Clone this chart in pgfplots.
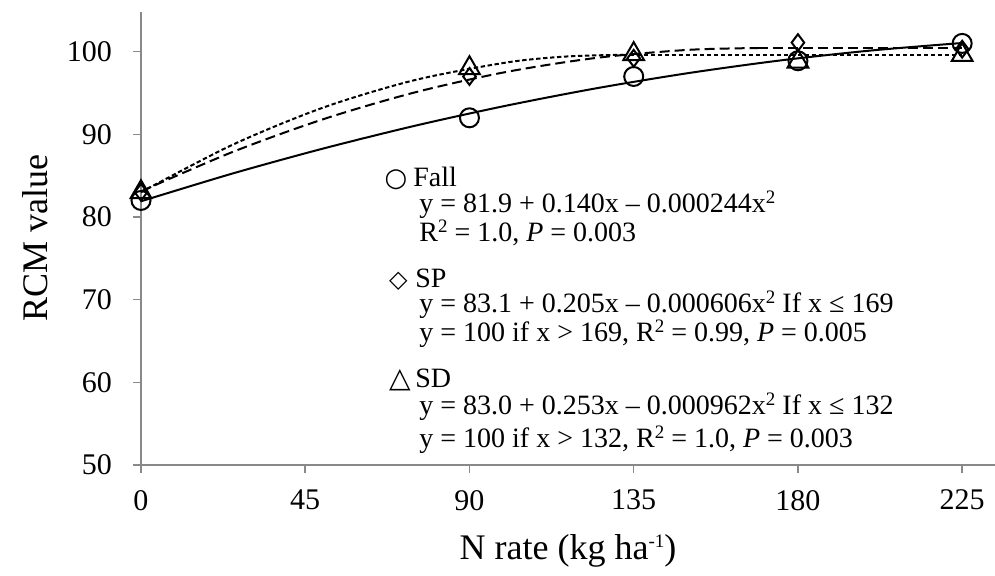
\documentclass[border=0pt]{standalone}
\usepackage{fontspec}
\setmainfont{Liberation Serif}
\newfontfamily\symfont{DejaVu Sans}
\usepackage{pgfplots}
\pgfplotsset{compat=1.18}
\definecolor{axgray}{RGB}{137,137,137}
\newcommand{\lgf}{\fontsize{14}{17}\selectfont}
\newcommand{\sq}[1]{\raisebox{0.33em}{\fontsize{9.5}{10}\selectfont #1}}
\begin{document}
\begin{tikzpicture}
\begin{axis}[name=ax,
 scale only axis, width=427pt, height=226.5pt,
 xmin=0, xmax=234, ymin=50, ymax=104.8,
 axis lines*=left, clip=false,
 axis line style={axgray, line width=1pt},
 tick align=outside, major tick length=4pt,
 tick style={axgray, line width=0.8pt},
 xtick={0,45,90,135,180,225}, ytick={50,60,70,80,90,100},
 /pgf/number format/assume math mode=true,
 ticklabel style={font=\fontsize{15}{18}\selectfont},
 xticklabel style={yshift=-5pt},
 yticklabel style={xshift=-7pt},
 xlabel={N rate (kg ha\sq{-1})},
 ylabel={RCM value},
 label style={font=\fontsize{18}{21}\selectfont},
 xlabel style={at={(axis description cs:0.5,-0.19)}, anchor=center},
 ylabel style={at={(axis description cs:-0.124,0.5)}, anchor=center},
]
% fitted curves
\addplot[black, line width=1pt, smooth] coordinates {
 (0,81.9) (25,85.25) (50,88.29) (75,91.03) (100,93.46) (125,95.59)
 (150,97.41) (175,98.93) (200,100.14) (225,101.05)};
\addplot[black, line width=1pt, dash pattern=on 5pt off 2.5pt, smooth] coordinates {
 (0,83.1) (25,87.85) (50,91.84) (75,95.07) (100,97.54) (125,99.26)
 (150,100.22) (169,100.44)};
\addplot[black, line width=1pt, dash pattern=on 5pt off 2.5pt] coordinates {
 (169,100.44) (225,100.44)};
\addplot[black, line width=1pt, dash pattern=on 2.2pt off 1.3pt, smooth] coordinates {
 (0,83.0) (25,88.72) (50,93.25) (75,96.56) (100,98.68) (116,99.40) (132,99.63)};
\addplot[black, line width=1pt, dash pattern=on 2.2pt off 1.3pt] coordinates {
 (132,99.63) (225,99.63)};
% observed values
\addplot[only marks, mark=o, mark size=4.75pt, mark options={black, line width=1pt}] coordinates {
 (0,82) (90,92) (135,97) (180,98.9) (225,101)};
\addplot[only marks, mark=diamond, mark size=4.2pt, mark options={black, line width=1pt}] coordinates {
 (0,83) (90,97) (135,99.2) (180,101.1) (225,100.3)};
\addplot[only marks, mark=triangle, mark size=6pt, mark options={black, line width=1pt}] coordinates {
 (0,83) (90,98) (135,99.7) (180,98.8) (225,99.6)};
\end{axis}
% legend
\node[anchor=base] at ([xshift=127.5pt,yshift=139.2pt]ax.south west) {\symfont\fontsize{13}{15}\selectfont ○};
\node[anchor=base west, inner sep=0pt] at ([xshift=136pt,yshift=139.2pt]ax.south west) {\lgf Fall};
\node[anchor=base west, inner sep=0pt] at ([xshift=139pt,yshift=126pt]ax.south west) {\lgf y = 81.9 + 0.140x – 0.000244x\sq{2}};
\node[anchor=base west, inner sep=0pt] at ([xshift=139pt,yshift=111.7pt]ax.south west) {\lgf R\sq{2} = 1.0, \textit{P} = 0.003};
\node[anchor=base] at ([xshift=128.7pt,yshift=88.5pt]ax.south west) {\symfont\fontsize{12}{14}\selectfont ◇};
\node[anchor=base west, inner sep=0pt] at ([xshift=137pt,yshift=88.5pt]ax.south west) {\lgf SP};
\node[anchor=base west, inner sep=0pt] at ([xshift=139pt,yshift=76pt]ax.south west) {\lgf y = 83.1 + 0.205x – 0.000606x\sq{2} If x ≤ 169};
\node[anchor=base west, inner sep=0pt] at ([xshift=139pt,yshift=61.7pt]ax.south west) {\lgf y = 100 if x > 169, R\sq{2} = 0.99, \textit{P} = 0.005};
\node[anchor=base] at ([xshift=129.5pt,yshift=38.5pt]ax.south west) {\symfont\fontsize{14}{16}\selectfont △};
\node[anchor=base west, inner sep=0pt] at ([xshift=137pt,yshift=38.5pt]ax.south west) {\lgf SD};
\node[anchor=base west, inner sep=0pt] at ([xshift=139pt,yshift=25pt]ax.south west) {\lgf y = 83.0 + 0.253x – 0.000962x\sq{2} If x ≤ 132};
\node[anchor=base west, inner sep=0pt] at ([xshift=139pt,yshift=8.5pt]ax.south west) {\lgf y = 100 if x > 132, R\sq{2} = 1.0, \textit{P} = 0.003};
\pgfresetboundingbox
\path[use as bounding box] ([xshift=-70.5pt,yshift=-55.5pt]ax.south west) rectangle ([yshift=6pt]ax.north east);
\end{tikzpicture}
\end{document}
